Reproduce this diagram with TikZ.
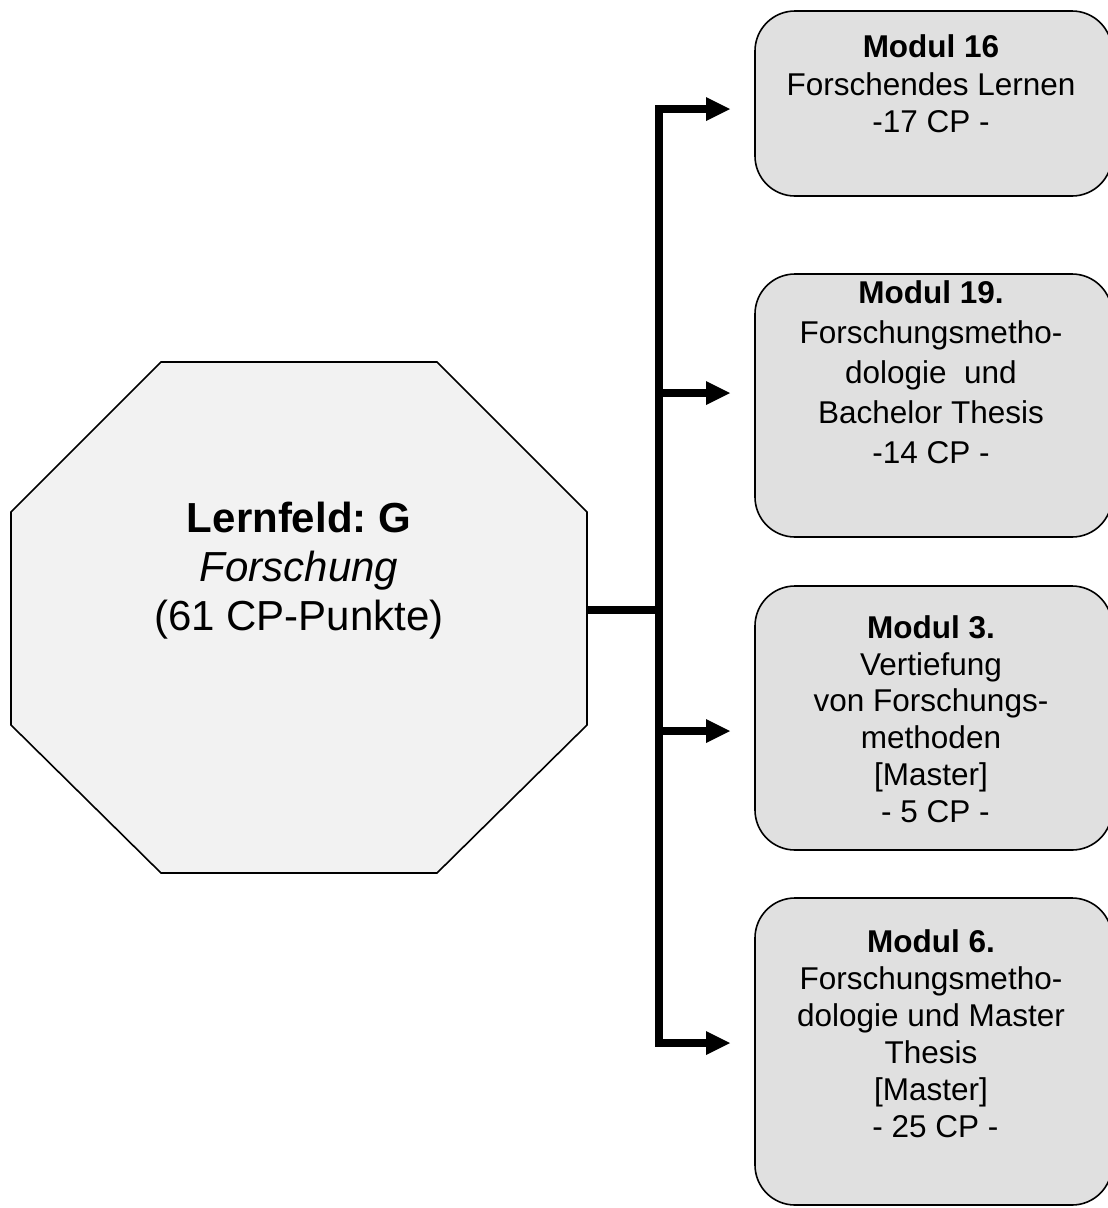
\documentclass[tikz,border=0pt]{standalone}
\usepackage{fontspec}
\setmainfont{Liberation Sans}
\usetikzlibrary{arrows.meta}
\definecolor{octfill}{HTML}{F2F2F2}
\definecolor{boxfill}{HTML}{E0E0E0}
\frenchspacing
\begin{document}
\begin{tikzpicture}[x=1pt,y=-1pt,
  octshape/.style={draw=black, line width=1.6pt, fill=octfill, line join=miter},
  octtext/.style={align=center, inner sep=0pt, font=\fontsize{42}{49}\selectfont},
  modbox/.style={draw=black, line width=1.6pt, fill=boxfill, rounded corners=40pt,
                 minimum width=357pt, inner sep=0pt},
  modtext/.style={align=center, inner sep=0pt},
  wire/.style={line width=8pt, line join=miter},
  arrowwire/.style={wire, -{Triangle[length=24pt,width=24pt,line width=0pt]}}
]
\useasboundingbox (0,0) rectangle (1108,1208);

% Octagon (Lernfeld)
\draw[octshape] (161,362) -- (437,362) -- (587,512) -- (587,725) -- (437,873)
  -- (161,873) -- (11,725) -- (11,512) -- cycle;
\node[octtext] (oct) at (299,570.5) {\textbf{Lernfeld: G}\\\textit{Forschung}\\(61 CP-Punkte)};
\coordinate (octR) at (587,610);

% Module boxes
\node[modbox, minimum height=185pt] (m1) at (933.5,103.5) {};
\node[modbox, minimum height=263pt] (m2) at (933.5,405.5) {};
\node[modbox, minimum height=264pt] (m3) at (933.5,718) {};
\node[modbox, minimum height=307pt] (m4) at (933.5,1051.5) {};

\node[modtext, font=\fontsize{31.5}{37.5}\selectfont] (m1t) at (931,84)
  {\textbf{Modul 16}\\Forschendes Lernen\\-17 CP -};
\node[modtext, font=\fontsize{31.5}{40}\selectfont] (m2t) at (931,372)
  {\textbf{Modul 19.}\\Forschungsmetho-\\dologie\ \ und\\Bachelor Thesis\\-14 CP -};
\node[modtext, font=\fontsize{31.5}{36.8}\selectfont] (m3t) at (931,719)
  {\textbf{Modul 3.}\\Vertiefung\\von Forschungs-\\methoden\\{[Master]}\\\ - 5 CP -};
\node[modtext, font=\fontsize{31.5}{37}\selectfont] (m4t) at (931,1034)
  {\textbf{Modul 6.}\\Forschungsmetho-\\dologie und Master\\Thesis\\{[Master]}\\\ - 25 CP -};

% Connectors
\coordinate (jn) at (659,610);
\coordinate (a1) at (730,109);
\coordinate (a2) at (730,393);
\coordinate (a3) at (730,731);
\coordinate (a4) at (730,1043);

\draw[wire] (octR) -- (jn);
\draw[arrowwire] (jn) |- (a1);
\draw[arrowwire] (jn) |- (a4);
\draw[arrowwire] (jn |- a2) -- (a2);
\draw[arrowwire] (jn |- a3) -- (a3);
\end{tikzpicture}
\end{document}
